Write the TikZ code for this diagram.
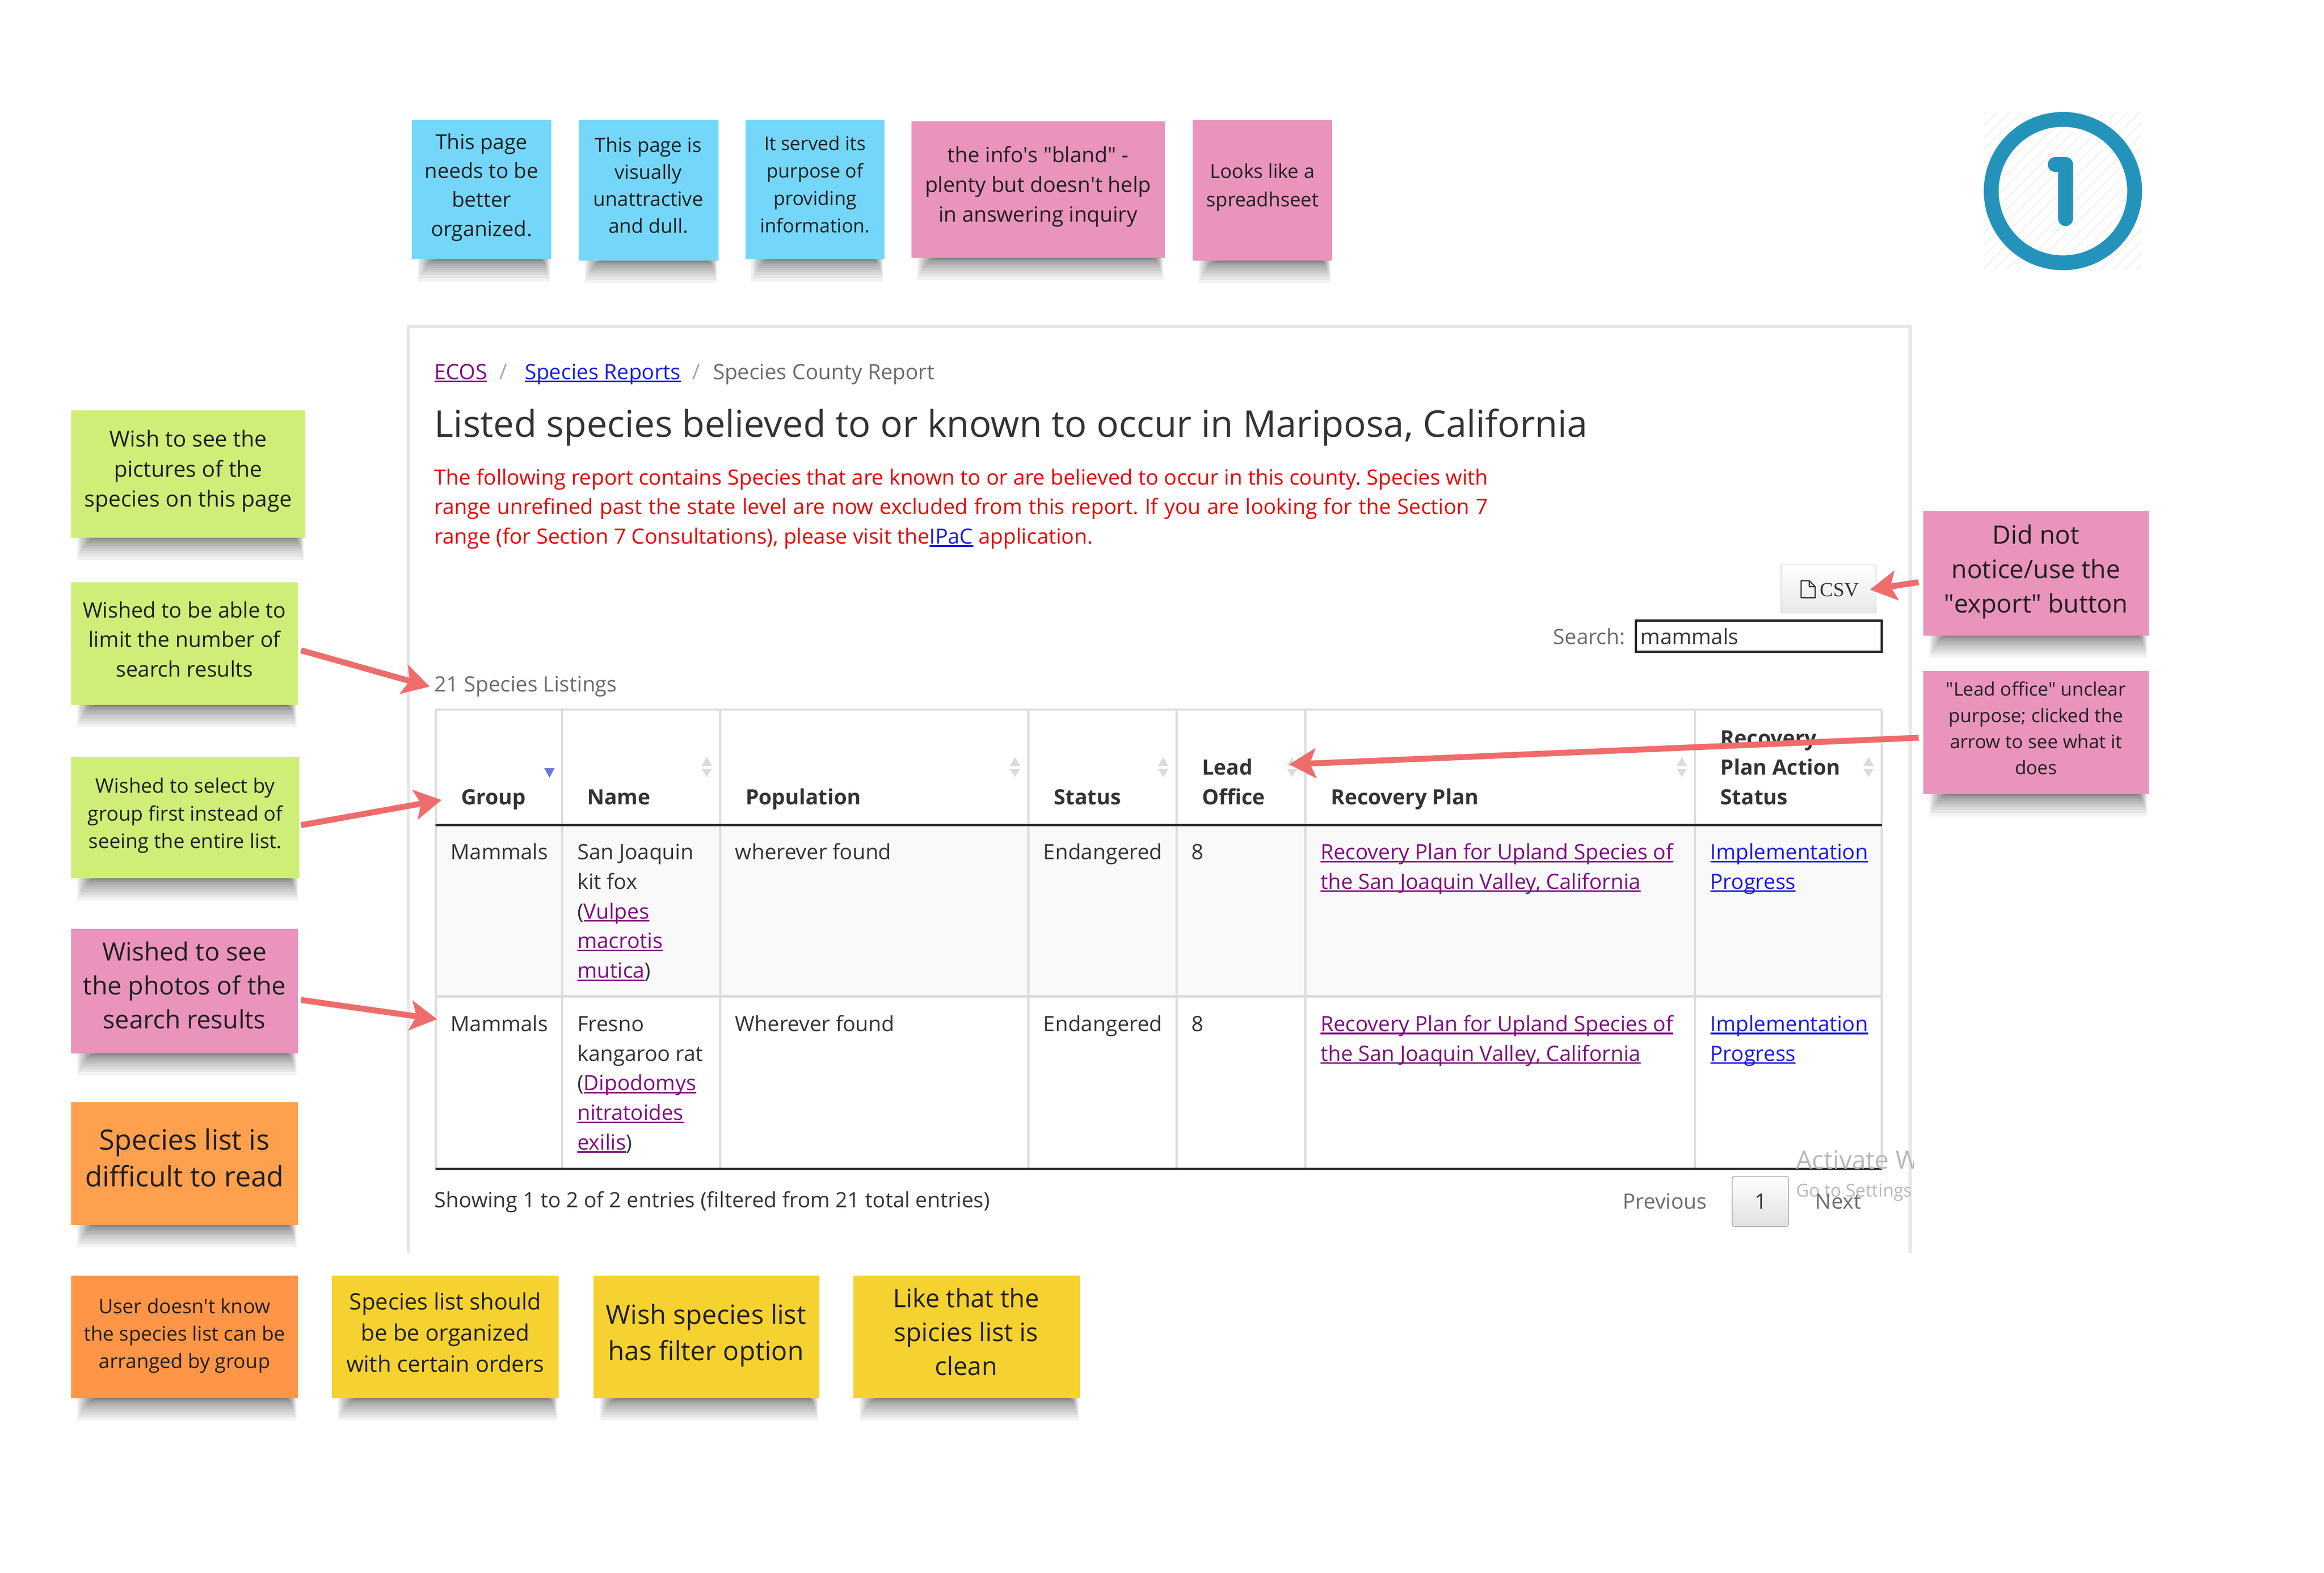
\documentclass[tikz,border=0pt]{standalone}
\usepackage{fontspec}
\setmainfont{Open Sans}
\newfontfamily\csvfont{Liberation Serif}
\frenchspacing
\usetikzlibrary{arrows.meta}
\definecolor{noteblue}{HTML}{74D7FA}
\definecolor{notepink}{HTML}{E993BD}
\definecolor{notegreen}{HTML}{CFEE78}
\definecolor{noteorange}{HTML}{FFA04E}
\definecolor{notedeep}{HTML}{FF9647}
\definecolor{noteyellow}{HTML}{F5D22F}
\definecolor{arrowred}{HTML}{EE6C6C}
\definecolor{inkdark}{HTML}{333333}
\definecolor{inkgray}{HTML}{6B6B6B}
\definecolor{linkblue}{HTML}{1A1AE6}
\definecolor{linkpurple}{HTML}{800E80}
\definecolor{rule}{HTML}{DDDDDD}
\definecolor{panelrule}{HTML}{E6E6E6}
\definecolor{badge}{HTML}{2493BC}
\definecolor{sortgray}{HTML}{DADCD8}
\definecolor{sortblue}{HTML}{6A78D8}
\newcommand{\fs}[2]{\fontsize{#1}{#2}\selectfont}
\newcommand{\dq}{\XeTeXglyph\XeTeXcharglyph"22 }
\newcommand{\sq}{\XeTeXglyph\XeTeXcharglyph"27 }
\newsavebox{\lnkbox}
\newcommand{\lnk}[2]{{\color{#1}\sbox{\lnkbox}{#2}\rlap{\rule[-1.9pt]{\wd\lnkbox}{1pt}}\usebox{\lnkbox}}}
\newcommand{\stickybox}[6]{%
  \foreach \k in {0,...,13}{%
    \fill[black,opacity=.05] ({#2+4+1.0*\k},#5) rectangle ({#4-1-.5*\k},{#5+15*(1-\k/14)^2.2});
  }%
  \node[boxnote,fill=#6,minimum width={(#4-#2)*1pt},minimum height={(#5-#3)*1pt}] (#1) at ({(#2+#4)/2},{(#3+#5)/2}) {};
}
\newcommand{\sortmark}[2]{%
  \fill[sortgray] ({#1-3.5},{#2-1}) -- ({#1+3.5},{#2-1}) -- (#1,{#2-7}) -- cycle;
  \fill[sortgray] ({#1-3.5},{#2+1}) -- ({#1+3.5},{#2+1}) -- (#1,{#2+6.5}) -- cycle;
}
\tikzset{
  boxnote/.style={rectangle,draw=none,inner sep=0pt},
  notetext/.style 2 args={align=center,inner sep=0pt,text=black!88,font=\fs{#1}{#2}},
  webtext/.style={anchor=base west,inner sep=0pt,text=inkdark,font=\fs{14.25}{20}},
  webblock/.style={anchor=north west,inner sep=0pt,text=inkdark,align=left,font=\fs{14.25}{20}},
  headtext/.style={anchor=north west,inner sep=0pt,text=inkdark,align=left,font=\fs{14.25}{20}\bfseries},
  redarrow/.style={draw=arrowred,line width=4pt,-{Stealth[length=18pt,width=20pt,inset=4pt]}},
}
\begin{document}
\begin{tikzpicture}[x=1pt,y=-1pt]
\useasboundingbox (0,0) rectangle (1568.4,1061.6);
\fill[white] (0,0) rectangle (1568.4,1061.6);

% badge
\begin{scope}
\clip (1338.8,75.8) rectangle (1445.6,182.3);
\foreach \d in {0,8,...,224}{
  \draw[color=black!4,line width=1.2pt] ({1330+\d},190) -- ({1330+\d+120},70);
  \draw[color=black!4,line width=1.2pt] ({1330-\d},190) -- ({1330-\d+120},70);
}
\end{scope}
\draw[badge,line width=10pt] (1392.2,129) circle (48.4);
\draw[badge,line width=10pt,line cap=round,line join=round] (1387,111) -- (1394,111) -- (1394,147.6);

% page panel
\draw[panelrule,line width=2.2pt] (275.5,846) -- (275.5,220.5) -- (1289,220.5) -- (1289,846);
\node[webtext] (ecos) at (293,256) {\lnk{linkpurple}{ECOS}};
\node[webtext,text=black!35] (sep1) at (337,256) {/};
\node[webtext] (reports) at (354,256) {\lnk{linkblue}{Species Reports}};
\node[webtext,text=black!35] (sep2) at (467,256) {/};
\node[webtext,text=inkgray] (crumb) at (481,256) {Species County Report};
\node[webtext,font=\fs{24.9}{30}] (title) at (293,295) {Listed species believed to or known to occur in Mariposa, California};
\node[webblock,text=red!92!black] (intro) at (293,313) {\strut\makebox[711pt][s]{The following report contains Species that are known to or are believed to occur in this county. Species with}\\
\strut\makebox[711pt][s]{range unrefined past the state level are now excluded from this report. If you are looking for the Section 7}\\
\strut range (for Section 7 Consultations), please visit the\lnk{linkblue}{IPaC} application.};

% csv + search
\node[rectangle,draw=rule,top color=white,bottom color=black!9,minimum width=64pt,minimum height=33pt,inner sep=0pt] (csvbtn) at (1234,397.5) {};
\draw[inkdark,line width=.8pt,line join=round] (1215.5,392) -- (1221,392) -- (1225,396) -- (1225,403.5) -- (1215.5,403.5) -- cycle (1221,392) -- (1221,396) -- (1225,396);
\node[webtext,font=\csvfont\fs{13.5}{16}] (csvlabel) at (1228,402.5) {CSV};
\node[webtext,anchor=base east,text=inkgray] (searchlabel) at (1097,435) {Search:};
\node[rectangle,draw=black!85,line width=1.6pt,fill=white,minimum width=166pt,minimum height=21pt,inner sep=0pt] (searchbox) at (1187,429.5) {};
\node[webtext] (searchval) at (1107,435) {mammals};
\node[webtext,text=inkgray] (count) at (293,467) {21 Species Listings};

% table
\fill[black!2.5] (294,557) rectangle (1270,672.5);
\foreach \x in {294,379.5,486,694,794,881,1144,1270}{
  \draw[rule,line width=1.5pt] (\x,479) -- (\x,789);
}
\draw[rule,line width=1.3pt] (294,479) -- (1270,479);
\draw[rule,line width=2pt] (294,672.5) -- (1270,672.5);
\draw[inkdark,line width=1.4pt] (294,557) -- (1270,557);
\draw[inkdark,line width=1.4pt] (294,789) -- (1270,789);
\coordinate (grouptip) at (298,540);
\coordinate (rowtip) at (295,688);
\coordinate (leadtip) at (870,516);
\coordinate (csvtip) at (1262,398);

\node[headtext] (hgroup) at (311,529) {\strut Group};
\node[headtext] (hname) at (396,529) {\strut Name};
\node[headtext] (hpop) at (503,529) {\strut Population};
\node[headtext] (hstatus) at (711,529) {\strut Status};
\node[headtext] (hlead) at (811,509) {\strut Lead\\\strut Office};
\node[headtext] (hplan) at (898,529) {\strut Recovery Plan};
\node[headtext] (hact) at (1161,489) {\strut Recovery\\\strut Plan Action\\\strut Status};
\fill[sortblue] (367.3,518.5) -- (374.3,518.5) -- (370.8,525) -- cycle;
\sortmark{477}{518}
\sortmark{685}{518}
\sortmark{785}{518}
\sortmark{872}{518}
\sortmark{1135}{518}
\sortmark{1261}{518}

\node[webblock] (r1a) at (304,566) {\strut Mammals};
\node[webblock] (r1b) at (389.5,566) {\strut San Joaquin\\\strut kit fox\\\strut (\lnk{linkpurple}{Vulpes}\\\strut\lnk{linkpurple}{macrotis}\\\strut\lnk{linkpurple}{mutica})};
\node[webblock] (r1c) at (496,566) {\strut wherever found};
\node[webblock] (r1d) at (704,566) {\strut Endangered};
\node[webblock] (r1e) at (804,566) {\strut 8};
\node[webblock] (r1f) at (891,566) {\strut\lnk{linkpurple}{Recovery Plan for Upland Species of}\\\strut\lnk{linkpurple}{the San Joaquin Valley, California}};
\node[webblock] (r1g) at (1154,566) {\strut\lnk{linkblue}{Implementation}\\\strut\lnk{linkblue}{Progress}};

\node[webblock] (r2a) at (304,682) {\strut Mammals};
\node[webblock] (r2b) at (389.5,682) {\strut Fresno\\\strut kangaroo rat\\\strut (\lnk{linkpurple}{Dipodomys}\\\strut\lnk{linkpurple}{nitratoides}\\\strut\lnk{linkpurple}{exilis})};
\node[webblock] (r2c) at (496,682) {\strut Wherever found};
\node[webblock] (r2d) at (704,682) {\strut Endangered};
\node[webblock] (r2e) at (804,682) {\strut 8};
\node[webblock] (r2f) at (891,682) {\strut\lnk{linkpurple}{Recovery Plan for Upland Species of}\\\strut\lnk{linkpurple}{the San Joaquin Valley, California}};
\node[webblock] (r2g) at (1154,682) {\strut\lnk{linkblue}{Implementation}\\\strut\lnk{linkblue}{Progress}};

% footer
\node[webtext] (showing) at (293,815) {Showing 1 to 2 of 2 entries (filtered from 21 total entries)};
\node[webtext,text=inkgray] (prev) at (1095,816) {Previous};
\node[rectangle,draw=black!40,rounded corners=1.5pt,top color=white,bottom color=black!12,minimum width=38pt,minimum height=34pt,inner sep=0pt] (pageone) at (1188,811) {};
\node[webtext] (pagenum) at (1184,816) {1};
\begin{scope}
\clip (1200,770) rectangle (1291.5,815);
\node[webtext,text=black!28,font=\fs{17}{20}] (activate) at (1212,789) {Activate Windows};
\node[webtext,text=black!28,font=\fs{12}{14}] (settings) at (1212,808) {Go to Settings};
\end{scope}
\node[webtext,text=inkgray] (nextp) at (1225,816) {Next};

% top stickies
\stickybox{s1}{278}{81}{372}{175}{noteblue}
\node[notetext={14}{19.5}] (s1t) at (325,126.5) {This page\\needs to be\\better\\organized.};
\stickybox{s2}{390.5}{81}{485}{176}{noteblue}
\node[notetext={13.3}{18.2}] (s2t) at (437.5,125) {This page is\\visually\\unattractive\\and dull.};
\stickybox{s3}{503}{81}{597}{175}{noteblue}
\node[notetext={12.8}{18.5}] (s3t) at (550,124.5) {It served its\\purpose of\\providing\\information.};
\stickybox{s4}{615}{82}{786}{174}{notepink}
\node[notetext={14.2}{20}] (s4t) at (700.5,126) {the info\sq s \dq bland\dq{} -\\plenty but doesn\sq t help\\in answering inquiry};
\stickybox{s5}{805}{81}{899}{176}{notepink}
\node[notetext={13.1}{19}] (s5t) at (852,126.5) {Looks like a\\spreadhseet};

% left stickies
\stickybox{l1}{48}{277}{206}{363}{notegreen}
\node[notetext={14.9}{20.2}] (l1t) at (127,318) {Wish to see the\\pictures of the\\species on this page};
\stickybox{l2}{48}{393}{201}{476}{notegreen}
\node[notetext={14.35}{20}] (l2t) at (124.5,431.5) {Wished to be able to\\limit the number of\\search results};
\stickybox{l3}{48}{511}{202}{593}{notegreen}
\node[notetext={13.5}{18.6}] (l3t) at (125,550.5) {Wished to select by\\group first instead of\\seeing the entire list.};
\stickybox{l4}{48}{627}{201}{711}{notepink}
\node[notetext={17}{23}] (l4t) at (124.5,665) {Wished to see\\the photos of the\\search results};
\stickybox{l5}{48}{744}{201}{827}{noteorange}
\node[notetext={18.9}{24.5}] (l5t) at (124.5,781.5) {Species list is\\difficult to read};

% bottom stickies
\stickybox{b1}{48}{861}{201}{944}{notedeep}
\node[notetext={13.4}{18.5}] (b1t) at (124.5,901.5) {User doesn\sq t know\\the species list can be\\arranged by group};
\stickybox{b2}{224}{861}{377}{944}{noteyellow}
\node[notetext={15.2}{21}] (b2t) at (300.5,899.5) {Species list should\\be be organized\\with certain orders};
\stickybox{b3}{400.5}{861}{553}{944}{noteyellow}
\node[notetext={17.9}{24.5}] (b3t) at (476.5,901.5) {Wish species list\\has filter option};
\stickybox{b4}{576}{861}{729}{944}{noteyellow}
\node[notetext={17.1}{23}] (b4t) at (652,899) {Like that the\\spicies list is\\clean};

% right stickies
\stickybox{r1}{1298}{345}{1450}{429}{notepink}
\node[notetext={17.1}{23.2}] (r1t) at (1374,386) {Did not\\notice/use the\\\dq export\dq{} button};
\stickybox{r2}{1298}{453}{1450}{536}{notepink}
\node[notetext={12.6}{17.6}] (r2t) at (1374,491.5) {\dq Lead office\dq{} unclear\\purpose; clicked the\\arrow to see what it\\does};

% arrows
\draw[redarrow] ([shift={(2,4.5)}]l2.east) -- ([xshift=-3pt]count.west);
\draw[redarrow] ([shift={(1,5)}]l3.east) -- (grouptip);
\draw[redarrow] ([shift={(2,6)}]l4.east) -- (rowtip);
\draw[redarrow] ([shift={(-3,6)}]r1.west) -- (csvtip);
\draw[redarrow] ([shift={(-3,3.5)}]r2.west) -- (leadtip);
\end{tikzpicture}
\end{document}
